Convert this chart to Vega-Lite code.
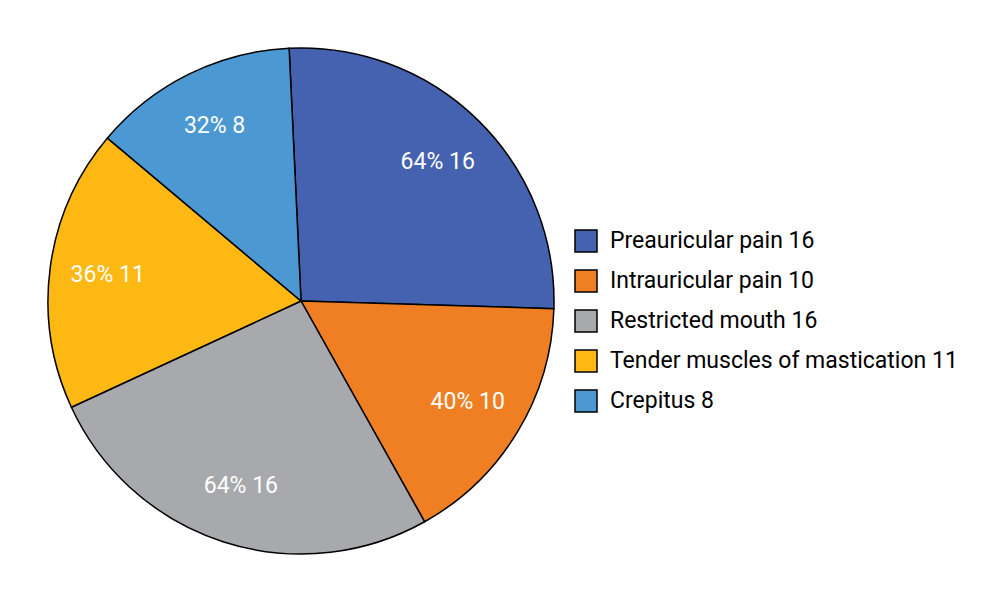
{
  "$schema": "https://vega.github.io/schema/vega-lite/v6.json",
  "width": 602,
  "height": 602,
  "padding": 0,
  "background": "white",
  "data": {
    "values": [
      {"symptom": "Preauricular pain 16", "n": 16, "label": "64% 16", "rank": 1},
      {"symptom": "Intrauricular pain 10", "n": 10, "label": "40% 10", "rank": 2},
      {"symptom": "Restricted mouth 16", "n": 16, "label": "64% 16", "rank": 3},
      {"symptom": "Tender muscles of mastication 11", "n": 11, "label": "36% 11", "rank": 4},
      {"symptom": "Crepitus 8", "n": 8, "label": "32% 8", "rank": 5}
    ]
  },
  "encoding": {
    "theta": {"field": "n", "type": "quantitative", "stack": true, "scale": {"range": [-0.047, 6.2362]}},
    "order": {"field": "rank", "type": "quantitative"},
    "color": {
      "field": "symptom",
      "type": "nominal",
      "scale": {
        "domain": ["Preauricular pain 16", "Intrauricular pain 10", "Restricted mouth 16", "Tender muscles of mastication 11", "Crepitus 8"],
        "range": ["#4462AF", "#EF7F22", "#A7A9AC", "#FDB813", "#4B98D3"]
      },
      "legend": {
        "title": null,
        "orient": "none",
        "legendX": 574,
        "legendY": 229,
        "symbolType": "square",
        "symbolSize": 484,
        "symbolStrokeColor": "black",
        "symbolStrokeWidth": 1.5,
        "symbolOpacity": 1,
        "labelFont": "Roboto",
        "labelFontSize": 23,
        "labelColor": "black",
        "labelOffset": 12,
        "labelLimit": 500,
        "rowPadding": 12
      }
    }
  },
  "layer": [
    {
      "mark": {"type": "arc", "outerRadius": 253, "stroke": "black", "strokeWidth": 1.5}
    },
    {
      "mark": {"type": "text", "radius": 195, "fontSize": 23, "font": "Roboto"},
      "encoding": {
        "text": {"field": "label", "type": "nominal"},
        "color": {"value": "white"}
      }
    }
  ],
  "config": {"view": {"stroke": null}}
}
